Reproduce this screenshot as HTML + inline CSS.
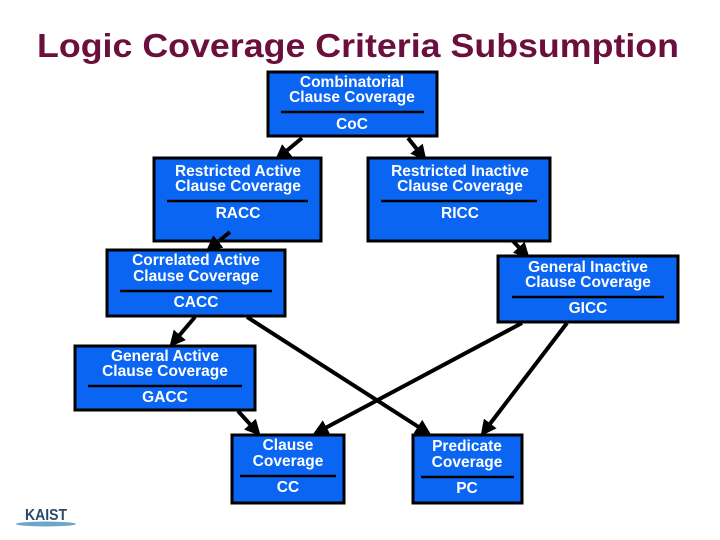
<!DOCTYPE html>
<html><head><style>
html,body{margin:0;padding:0;background:#fff;}
svg{display:block;font-family:"Liberation Sans",Arial,sans-serif;}
.b{fill:#0a66f2;stroke:#000;stroke-width:3;}
.t{fill:#fff;font-weight:bold;font-size:15.5px;text-anchor:middle;}
.d{stroke:#000;stroke-width:2.5;}
.a{stroke:#000;stroke-width:4;marker-end:url(#ah);}
</style></head><body>
<svg width="720" height="540" viewBox="0 0 720 540">
<defs><marker id="ah" markerWidth="4" markerHeight="4" refX="3" refY="2" orient="auto"><path d="M0,0 L4,2 L0,4 z" fill="#000"/></marker></defs>
<text x="358" y="57" font-size="33" font-weight="bold" fill="#6b0f3c" text-anchor="middle" textLength="642" lengthAdjust="spacingAndGlyphs">Logic Coverage Criteria Subsumption</text>

<g>
<line class="a" x1="302" y1="138" x2="278" y2="158"/>
<line class="a" x1="408" y1="138" x2="424" y2="158"/>
<line class="a" x1="512" y1="240" x2="527" y2="256"/>
<line class="a" x1="195" y1="317" x2="172" y2="344"/>
<line class="a" x1="247" y1="317" x2="428" y2="433"/>
<line class="a" x1="522" y1="323" x2="316" y2="433"/>
<line class="a" x1="567" y1="323" x2="483" y2="433"/>
<line class="a" x1="238" y1="411" x2="258" y2="433"/>
</g>

<rect class="b" x="268" y="72" width="169" height="64"/>
<text class="t" x="352" y="87">Combinatorial</text><text class="t" x="352" y="102">Clause Coverage</text>
<line class="d" x1="281" y1="112" x2="424" y2="112"/><text class="t" x="352" y="129">CoC</text>

<rect class="b" x="154" y="158" width="167" height="83"/>
<text class="t" x="238" y="176">Restricted Active</text><text class="t" x="238" y="191">Clause Coverage</text>
<line class="d" x1="167" y1="201" x2="308" y2="201"/><text class="t" x="238" y="218">RACC</text>

<rect class="b" x="368" y="158" width="182" height="83"/>
<text class="t" x="460" y="176">Restricted Inactive</text><text class="t" x="460" y="191">Clause Coverage</text>
<line class="d" x1="381" y1="201" x2="537" y2="201"/><text class="t" x="460" y="218">RICC</text>

<rect class="b" x="107" y="250" width="178" height="66"/>
<text class="t" x="196" y="265">Correlated Active</text><text class="t" x="196" y="281">Clause Coverage</text>
<line class="d" x1="120" y1="291" x2="272" y2="291"/><text class="t" x="196" y="307">CACC</text>

<line class="a" x1="230" y1="232" x2="209" y2="249"/>

<rect class="b" x="498" y="256" width="180" height="66"/>
<text class="t" x="588" y="272">General Inactive</text><text class="t" x="588" y="287">Clause Coverage</text>
<line class="d" x1="512" y1="297" x2="664" y2="297"/><text class="t" x="588" y="313">GICC</text>

<rect class="b" x="75" y="346" width="180" height="64"/>
<text class="t" x="165" y="361">General Active</text><text class="t" x="165" y="376">Clause Coverage</text>
<line class="d" x1="88" y1="386" x2="242" y2="386"/><text class="t" x="165" y="402">GACC</text>

<rect class="b" x="232" y="435" width="112" height="68"/>
<text class="t" x="288" y="450">Clause</text><text class="t" x="288" y="466">Coverage</text>
<line class="d" x1="240" y1="476" x2="336" y2="476"/><text class="t" x="288" y="492">CC</text>

<rect class="b" x="413" y="435" width="109" height="68"/>
<text class="t" x="467" y="451">Predicate</text><text class="t" x="467" y="467">Coverage</text>
<line class="d" x1="421" y1="477" x2="514" y2="477"/><text class="t" x="467" y="493">PC</text>

<text x="46" y="520" font-size="16" font-weight="bold" fill="#2a4a6a" text-anchor="middle" textLength="42" lengthAdjust="spacingAndGlyphs">KAIST</text>
<ellipse cx="46" cy="524" rx="30" ry="2.5" fill="#6aa8c8"/>
</svg>
</body></html>
